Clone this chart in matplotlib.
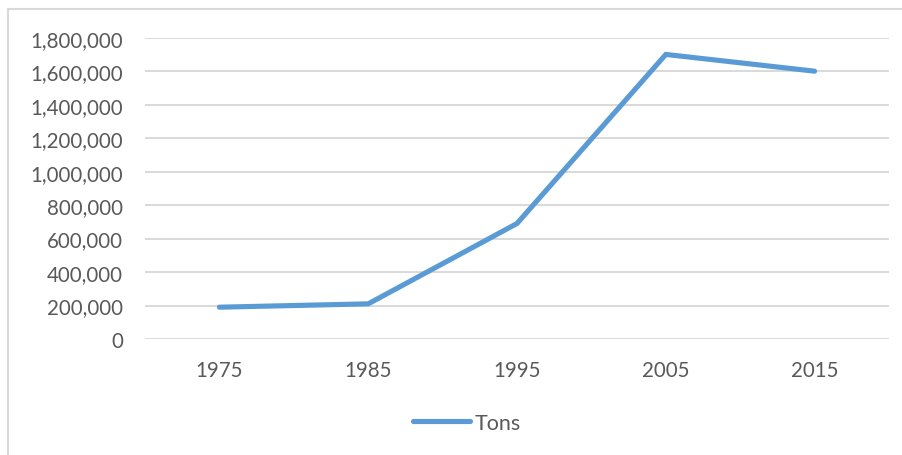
import matplotlib
matplotlib.use('Agg')
import matplotlib.pyplot as plt
from matplotlib.lines import Line2D
from matplotlib.ticker import FuncFormatter

years = ['1975', '1985', '1995', '2005', '2015']
tons = [190000, 210000, 690000, 1700000, 1600000]
y_ticks = list(range(0, 1800001, 200000))

plt.rcParams['font.family'] = ['Lato', 'DejaVu Sans']
text_color = '#595959'
line_color = '#5B9BD5'
grid_color = '#D9D9D9'

W, H = 903, 456
fig = plt.figure(figsize=(W / 100, H / 100), dpi=100)
fig.set_facecolor('white')
ax = fig.add_axes([145 / W, 1 - 340 / H, (889 - 145) / W, (340 - 38.7) / H])

x = range(len(years))
ax.plot(x, tons, color=line_color, linewidth=3.7, solid_capstyle='round',
        solid_joinstyle='miter', label='Tons', zorder=3)

ax.set_xlim(-0.5, len(years) - 0.5)
ax.set_ylim(0, 1800000)
ax.set_xticks(list(x))
ax.set_xticklabels(years)
ax.set_yticks(y_ticks)
ax.yaxis.set_major_formatter(FuncFormatter(lambda v, p: f'{int(v):,}'))
ax.tick_params(axis='y', length=0, pad=16, labelsize=14.8, labelcolor=text_color)
ax.tick_params(axis='x', length=0, pad=15, labelsize=14.8, labelcolor=text_color)
ax.grid(axis='y', color=grid_color, linewidth=1.4)
ax.set_axisbelow(True)
for s in ax.spines.values():
    s.set_visible(False)

# chart frame: top and left edges
fig.add_artist(Line2D([8 / W, 1], [1 - 10 / H] * 2, color=grid_color, linewidth=1.5,
                      transform=fig.transFigure))
fig.add_artist(Line2D([8 / W] * 2, [0, 1 - 10 / H], color=grid_color, linewidth=1.5,
                      transform=fig.transFigure))

fig.legend(loc='center', bbox_to_anchor=(467 / W, 1 - 424 / H), frameon=False,
           fontsize=15.5, labelcolor=text_color, handlelength=2.65, handletextpad=0.2)

fig.savefig('out.png', dpi=100, facecolor='white')
